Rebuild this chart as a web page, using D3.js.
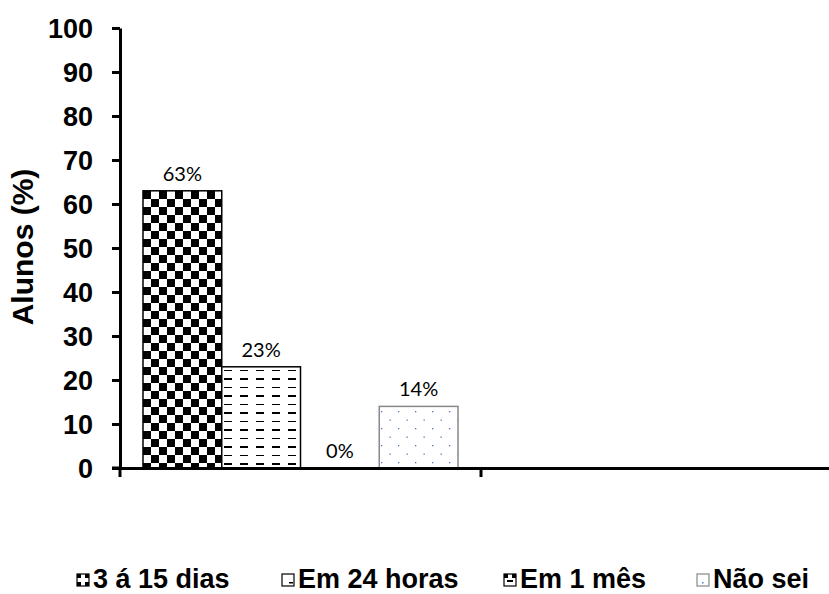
<!DOCTYPE html>
<html>
<head>
<meta charset="utf-8">
<script src="https://cdn.jsdelivr.net/npm/d3@7/dist/d3.min.js"></script>
<style>
  html, body { margin: 0; padding: 0; background: #fff; }
  svg { display: block; }
</style>
</head>
<body>
<svg id="chart" width="829" height="594"></svg>
<script>
// ---- data ----
const categories = ["Grupo 1", "Grupo 2"];
const series = ["3 á 15 dias", "Em 24 horas", "Em 1 mês", "Não sei"];
const values = [63, 23, 0, 14];          // values for "Grupo 1"
const valueLabels = ["63%", "23%", "0%", "14%"];
const yTicks = [0, 10, 20, 30, 40, 50, 60, 70, 80, 90, 100];
const yTitle = "Alunos (%)";

const svg = d3.select("#chart");

const y = d3.scaleLinear().domain([0, 100]).range([468, 28]);
const x0 = d3.scaleBand().domain(categories).range([120, 842]).padding(0);
const x1 = d3.scaleBand().domain(series).range([0, x0.bandwidth()]).paddingInner(0).paddingOuter(0.292);

// ---- patterns ----
const defs = svg.append("defs");
// checkerboard
const pc = defs.append("pattern").attr("id", "pChk").attr("patternUnits", "userSpaceOnUse")
  .attr("width", 16).attr("height", 16).attr("x", 143).attr("y", 191);
pc.append("rect").attr("width", 16).attr("height", 16).attr("fill", "#fff");
pc.append("rect").attr("x", 0).attr("y", 0).attr("width", 8).attr("height", 8).attr("fill", "#000");
pc.append("rect").attr("x", 8).attr("y", 8).attr("width", 8).attr("height", 8).attr("fill", "#000");
// dashes
const pd = defs.append("pattern").attr("id", "pDash").attr("patternUnits", "userSpaceOnUse")
  .attr("width", 16).attr("height", 17).attr("x", 222).attr("y", 367);
pd.append("rect").attr("width", 16).attr("height", 17).attr("fill", "#fff");
pd.append("rect").attr("x", 2).attr("y", 3).attr("width", 8).attr("height", 1).attr("fill", "#000");
pd.append("rect").attr("x", 2).attr("y", 11).attr("width", 8).attr("height", 2).attr("fill", "#000");
// dots
const pt = defs.append("pattern").attr("id", "pDot").attr("patternUnits", "userSpaceOnUse")
  .attr("width", 17).attr("height", 17).attr("x", 380).attr("y", 407);
pt.append("rect").attr("width", 17).attr("height", 17).attr("fill", "#fff");
pt.append("rect").attr("x", 1).attr("y", 4).attr("width", 1.3).attr("height", 1.3).attr("fill", "#4a7ebb");
pt.append("rect").attr("x", 9.5).attr("y", 12.5).attr("width", 1.3).attr("height", 1.3).attr("fill", "#4a7ebb");
const fills = ["url(#pChk)", "url(#pDash)", "url(#pChk)", "url(#pDot)"];
const strokes = ["#000", "#000", "#000", "#888"];

// ---- bars ----
const g = svg.append("g");
const bars = series.map((s, i) => ({ s, v: values[i], i }));
g.selectAll("rect.bar").data(bars.filter(d => d.v > 0)).join("rect")
  .attr("class", "bar")
  .attr("x", d => x0(categories[0]) + x1(d.s))
  .attr("y", d => y(d.v))
  .attr("width", x1.bandwidth())
  .attr("height", d => y(0) - y(d.v))
  .attr("fill", d => fills[d.i])
  .attr("stroke", d => strokes[d.i])
  .attr("stroke-width", 1.5);

g.selectAll("text.vl").data(bars).join("text")
  .attr("class", "vl")
  .attr("x", d => x0(categories[0]) + x1(d.s) + x1.bandwidth() / 2)
  .attr("y", d => y(d.v) - 10)
  .attr("text-anchor", "middle")
  .attr("font-family", "Lato, 'Open Sans', sans-serif")
  .attr("font-size", 20)
  .attr("fill", "#000")
  .text((d, i) => valueLabels[i]);

// ---- axes ----
const yAxis = svg.append("g").attr("transform", "translate(120,0)")
  .call(d3.axisLeft(y).tickValues(yTicks).tickSize(8).tickPadding(19).tickSizeOuter(0));
yAxis.select(".domain").attr("stroke", "#000").attr("stroke-width", 3);
yAxis.selectAll(".tick line").attr("stroke", "#000").attr("stroke-width", 3);
yAxis.selectAll(".tick text").attr("font-family", "'Liberation Sans', Arial, sans-serif")
  .attr("font-weight", "bold").attr("font-size", 27).attr("fill", "#000").attr("dy", "0.36em");

const xAxis = svg.append("g").attr("transform", "translate(0,468)")
  .call(d3.axisBottom(x0).tickValues([]).tickSizeOuter(0));
xAxis.select(".domain").attr("stroke", "#000").attr("stroke-width", 3);
// category boundary ticks
xAxis.selectAll("line.bt").data([120, ...categories.map(c => x0(c) + x0.bandwidth())]).join("line")
  .attr("class", "bt")
  .attr("x1", d => d).attr("x2", d => d).attr("y1", 0).attr("y2", 9)
  .attr("stroke", "#000").attr("stroke-width", 3);
svg.append("line").attr("x1", 112).attr("x2", 120).attr("y1", 468).attr("y2", 468)
  .attr("stroke", "#000").attr("stroke-width", 3);

// y title
svg.append("text")
  .attr("transform", "translate(33,247) rotate(-90)")
  .attr("text-anchor", "middle")
  .attr("font-family", "'Liberation Sans', Arial, sans-serif")
  .attr("font-weight", "bold").attr("font-size", 30).attr("fill", "#000")
  .text(yTitle);

// ---- legend ----
const legendX = [77, 282, 504, 697];
const legendFills = ["url(#lChk)", "url(#lDash)", "url(#lChk2)", "url(#lDot)"];
const l1 = defs.append("pattern").attr("id", "lChk").attr("patternUnits", "objectBoundingBox").attr("width", 1).attr("height", 1);
l1.append("rect").attr("width", 12).attr("height", 12).attr("fill", "#fff");
l1.append("rect").attr("x", 0).attr("y", 0).attr("width", 4).attr("height", 4).attr("fill", "#000");
l1.append("rect").attr("x", 8).attr("y", 8).attr("width", 4).attr("height", 4).attr("fill", "#000");
l1.append("rect").attr("x", 8).attr("y", 0).attr("width", 4).attr("height", 4).attr("fill", "#000");
l1.append("rect").attr("x", 0).attr("y", 8).attr("width", 4).attr("height", 4).attr("fill", "#000");
const l2 = defs.append("pattern").attr("id", "lDash").attr("patternUnits", "objectBoundingBox").attr("width", 1).attr("height", 1);
l2.append("rect").attr("width", 12).attr("height", 12).attr("fill", "#fff");
l2.append("rect").attr("x", 7).attr("y", 8).attr("width", 4).attr("height", 1.5).attr("fill", "#000");
const l3 = defs.append("pattern").attr("id", "lChk2").attr("patternUnits", "objectBoundingBox").attr("width", 1).attr("height", 1);
l3.append("rect").attr("width", 12).attr("height", 12).attr("fill", "#fff");
l3.append("rect").attr("x", 0).attr("y", 0).attr("width", 4).attr("height", 4).attr("fill", "#000");
l3.append("rect").attr("x", 8).attr("y", 0).attr("width", 4).attr("height", 4).attr("fill", "#000");
l3.append("rect").attr("x", 3).attr("y", 6).attr("width", 6).attr("height", 2).attr("fill", "#000");
const l4 = defs.append("pattern").attr("id", "lDot").attr("patternUnits", "objectBoundingBox").attr("width", 1).attr("height", 1);
l4.append("rect").attr("width", 12).attr("height", 12).attr("fill", "#fff");
l4.append("rect").attr("x", 5).attr("y", 8).attr("width", 1.5).attr("height", 1.5).attr("fill", "#4a7ebb");

const lg = svg.append("g").selectAll("g").data(series).join("g")
  .attr("transform", (d, i) => `translate(${legendX[i]},0)`);
lg.append("rect").attr("x", 0).attr("y", 574).attr("width", 12).attr("height", 12)
  .attr("fill", (d, i) => legendFills[i]).attr("stroke", (d, i) => i === 3 ? "#888" : "#000").attr("stroke-width", 1.2);
lg.append("text").attr("x", 16).attr("y", 588)
  .attr("font-family", "'Liberation Sans', Arial, sans-serif")
  .attr("font-weight", "bold").attr("font-size", 27).attr("fill", "#000")
  .text(d => d);
</script>
</body>
</html>
